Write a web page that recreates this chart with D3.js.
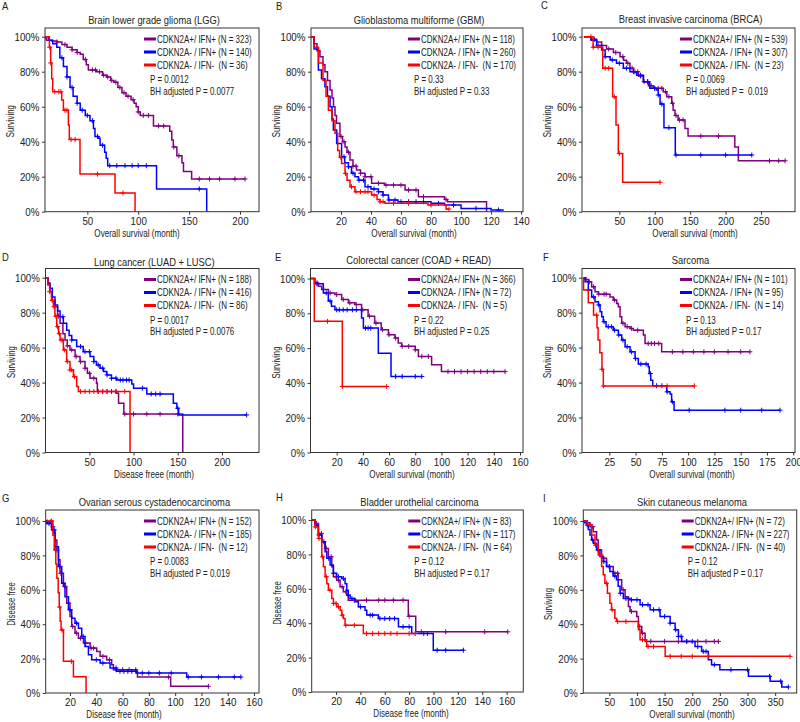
<!DOCTYPE html>
<html><head><meta charset="utf-8">
<script src="https://cdnjs.cloudflare.com/ajax/libs/d3/7.8.5/d3.min.js"></script>
<style>
body{margin:0;background:#fff}
text{font-family:"Liberation Sans",Arial,sans-serif;fill:#222;white-space:pre}
</style></head><body><svg id="c" width="800" height="722" xmlns="http://www.w3.org/2000/svg"></svg>
<script>
// ---------------- DATA ----------------
const groupNames = ["CDKN2A+/ IFN+", "CDKN2A- / IFN+", "CDKN2A- / IFN-"];
const panelTitles = ["Brain lower grade glioma (LGG)","Glioblastoma multiforme (GBM)","Breast invasive carcinoma (BRCA)",
  "Lung cancer (LUAD + LUSC)","Colorectal cancer (COAD + READ)","Sarcoma",
  "Ovarian serous cystadenocarcinoma","Bladder urothelial carcinoma","Skin cutaneous melanoma"];
const panelLetters = ["A","B","C","D","E","F","G","H","I"];
const xLabels = ["Overall survival (month)","Overall survival (month)","Overall survival (month)",
  "Disease freee (month)","Overall survival (month)","Overall survival (month)",
  "Disease free (month)","Disease free (month)","Overall survival (month)"];
const yLabels = ["Surviving","Surviving","Surviving","Surviving","Surviving","Surviving","Disease free","Disease free","Surviving"];
const groupN = [[323,140,36],[118,260,170],[539,307,23],[188,416,86],[366,72,5],[101,95,14],[152,185,12],[83,117,64],[72,227,40]];
const pValues = ["0.0012","0.33","0.0069","0.0017","0.22","0.13","0.0083","0.12","0.12"];
const bhValues = ["0.0077","0.33"," 0.019","0.0076","0.25","0.17","0.019","0.17","0.17"];
const yTicks = [0,20,40,60,80,100];
const xTicks = [[50,100,150,200],[20,40,60,80,100,120,140],[50,100,150,200,250],
  [50,100,150,200],[20,40,60,80,100,120,140,160],[25,50,75,100,125,150,175,200],
  [20,40,60,80,100,120,140,160],[20,40,60,80,100,120,140,160],[50,100,150,200,250,300,350]];

// step points [month, % surviving]; censor times in months
const lggPurple = [[0,100],[5,99],[10,98],[15,97.5],[20,97],[25,95.5],[30,94],[35,92.5],[40,91],[43,90],[46,87],[49,84],[51,81],[59,80],[65,78],[69,77],[73,75],[76,74],[80,71],[84,68],[88,66],[93,64],[96,62],[98,60],[100,57],[102,55],[115,49],[131,46],[133,41],[134.5,37],[138,32],[143,28],[144.5,23],[152.5,18.7],[205,18.7]];
const lggPurpleCens = [20,28,35,40,48,55,58,62,66,70,74,78,82,86,90,95,100,105,110,120,125,135,140,160,170,180,195,205];
const lggBlue = [[0,100],[12,98],[16,96],[20,94],[23,88],[26.5,83],[30,77],[33,71],[36,66],[40,62],[43,58],[48,55],[52.6,52],[56,47.6],[57.5,43],[61,42],[62.5,38],[67,34],[68.5,30.5],[70,26.3],[118,13],[167.3,0]];
const lggBlueCens = [25,30,35,40,45,50,55,60,65,72,79,87,94,100,108,160];
const lggRed = [[0,100],[12.7,94],[14,85],[15,76],[16,68.6],[24.8,63.8],[26.5,58],[31.4,49.5],[32.3,41.3],[42.8,21.5],[77.2,10.7],[96.9,0]];
const lggRedCens = [13,14,18,22,24,28,30,34,38,60,85];

const gbmPurple = [[0,100],[2,96],[4,92],[6,88.6],[8,84],[9.3,80],[11,75],[12.7,69.5],[14,65],[15,60],[16,55],[17,50.5],[19.3,43],[21,40],[22.7,37],[24,34],[26,29.5],[28,26],[30.4,23.8],[33,22],[36,20],[40.4,16.2],[49,15.2],[62.7,12.4],[71.6,8.6],[89,7],[91,5.7],[117,0]];
const gbmPurpleCens = [20,22,25,28,30,33,36,40,45,50,55,60,65,70,75,90];
const gbmBlue = [[0,100],[2,93],[4.9,81],[7,76],[9.3,71.4],[11,66],[12.7,60],[14,53],[14.9,46.7],[17.1,39],[20.4,31.4],[22.5,28],[24.9,25.7],[27,22],[29.3,20],[31.6,18],[36,14.3],[40,13],[44.9,11.4],[48,9.5],[51.6,6.7],[58,5.7],[80,4.8],[89,3.8],[100,1.9],[120,1],[128,0.5]];
const gbmBlueCens = [22,25,28,32,35,38,42,45,48,52,56,60,65,70,75,85,95,110,125];
const gbmRed = [[0,100],[2,94],[5,85],[8,75],[10,66],[11.6,58],[14,52],[16,44.8],[17.8,35],[19,31],[20.4,27.6],[22.7,21.9],[24,18],[26,14.3],[29.3,11.4],[40.4,9.5],[44,7],[46,5.7],[49.3,4.8],[78,3.8],[90,1.5],[92,1.5]];
const gbmRedCens = [20,23,27,30,33,36,38,42,46,48,55,65,80,92];

const brcaPurple = [[0,100],[10,98.5],[18,97],[25,95],[32,93],[41.6,91],[51,88.6],[56,86.5],[60,84.8],[65,82],[70,80],[77,77.5],[84,74.3],[91,72],[98,70.5],[112,68.6],[117,65.7],[124,62],[126,58],[128.6,55],[133,52.4],[142.7,47.6],[147,43.2],[213,37],[218,29.1],[284,29.1]];
const brcaPurpleCens = [15,25,35,45,55,62,68,72,76,80,85,90,95,100,105,110,115,120,125,130,135,140,165,190,262,275,284];
const brcaBlue = [[0,100],[10,98],[18,95],[25,92.4],[30,88.6],[37,86.7],[46,84.8],[55.6,82],[65,80],[74.4,78],[84,74.3],[93,70.5],[102.7,69.5],[105,66.7],[107.5,61.5],[113,48],[129,32.4],[237,32.4]];
const brcaBlueCens = [20,30,40,50,60,70,80,90,100,105,110,120,130,165,200,237];
const brcaRed = [[0,100],[13,94],[26.6,82],[40.6,65.7],[45.3,49.5],[48.6,33.3],[54.7,16.8],[107.4,16.8]];
const brcaRedCens = [10,13,20,30,35,43,50,107.4];

const lungPurple = [[0,100],[3,96],[5.4,92],[8,87],[11,83.4],[14,78],[16.8,74],[20,68],[22.4,64.4],[25,61],[28,58.7],[33.8,54.9],[39.4,52],[45,48.2],[47.7,45.3],[50.7,42.5],[58,39.6],[59,34.9],[81,33.9],[83,28.2],[89,22],[155.7,0]];
const lungPurpleCens = [15,25,30,35,40,45,50,55,60,65,70,75,80,90,100,115,130,150];
const lungBlue = [[0,100],[3,97],[5.4,94],[8,89],[11,84.4],[14,81],[16.8,77.7],[20.5,74],[24.3,70],[27,67],[30,64.4],[35.6,60.6],[43,57.7],[50.7,54.9],[55,52],[58,50],[62,48.2],[66,46.3],[69.6,44.4],[75,42.5],[81,41.5],[98,39.2],[100,36.8],[115,33.5],[145,28.2],[149,25.3],[151,21.5],[228,21.5]];
const lungBlueCens = [20,30,40,45,50,55,60,65,70,75,80,85,88,92,95,110,120,125,130,150,228];
const lungRed = [[0,100],[3,96],[5,92],[7,87],[9.2,83.4],[11,78],[13,72],[15,68],[16.8,64.4],[20.5,58.7],[24.3,52],[28,47.2],[31.9,43.4],[35.6,37.7],[37.5,34.9],[96,0]];
const lungRedCens = [5,8,10,12,14,16,18,20,22,25,28,30,33,40,45,50,55,60,65,70,80,90];

const crcPurple = [[0,100],[3.4,97.5],[6,95.5],[8.5,93.7],[13.6,91.7],[18.7,90.8],[23.8,87.9],[29,86],[34,85],[39,82],[44,78.3],[49,74.4],[54,70.6],[59.5,67.7],[64.5,65.8],[67,62.9],[69.6,61],[80,59],[82.4,55.2],[92.5,50.4],[100,46.5],[148.6,46.5]];
const crcPurpleCens = [5,10,15,20,25,30,35,40,45,50,55,60,65,70,75,80,85,90,105,110,115,120,125,130,135,140,148.6];
const crcBlue = [[0,100],[3,97],[9.8,91.7],[13.6,87],[16,84],[18.7,82],[39,77.3],[40.4,71.5],[51.8,57],[61.5,43.7],[85,43.7]];
const crcBlueCens = [5,12,15,20,22,25,28,32,35,42,44,46,65,70,80,85];
const crcRed = [[0,100],[2.9,75.4],[24.3,37.9],[58.2,37.9]];
const crcRedCens = [13,24.3,58.2];

const sarcPurple = [[0,100],[2,99],[5,97.7],[8.2,94.8],[11.4,92],[14.6,90.6],[25.7,89],[28.8,87.2],[32,85.3],[33.6,83.4],[35.2,77.7],[36.8,73.9],[40,72],[44.7,71],[47.9,70],[57.4,67.2],[59,62.4],[74.8,57.6],[158.8,57.6]];
const sarcPurpleCens = [3,6,10,15,20,22,30,38,42,46,52,62,65,68,72,85,95,105,115,125,138,150,158.8];
const sarcBlue = [[0,100],[1.9,97.7],[5,93],[8.2,89],[11.4,86.3],[14.6,84.4],[16.2,80.5],[17.8,77.7],[19.3,74.8],[21.9,72],[28.8,70],[33.6,67.2],[36.8,64.3],[40,60.5],[44.7,57.6],[49.5,53.8],[52.6,50.6],[62,49],[63,45.2],[64.4,41.4],[66.3,38.2],[79.6,34.7],[82.8,33.4],[84.3,29],[86.6,24.2],[187.4,24.2]];
const sarcBlueCens = [5,10,15,20,24,27,30,34,38,42,46,50,55,60,64,70,75,80,85,101,135,150,170,187.4];
const sarcRed = [[0,100],[0.5,92.9],[5,85.7],[10,78.6],[13.3,71.4],[14.3,64.3],[16,57.1],[18,47.6],[19.3,38.1],[105.9,38.1]];
const sarcRedCens = [13,18,19.3,80,105.9];

const ovPurple = [[0,100],[2.3,99.5],[6,96.7],[7.5,93],[8.6,89],[10,83],[11.2,77.4],[12.4,69.6],[15,61.9],[17.5,52.2],[20,44.5],[21.3,38.7],[23.8,34.8],[26.4,31.9],[30.2,29],[35.3,26.1],[40.3,24.2],[42.9,21.3],[47.9,19.3],[51.7,16.4],[53,13.5],[70.8,11.6],[71.3,9.3],[96.6,3.9],[125.3,3.9]];
const ovPurpleCens = [3,5,7,10,13,16,19,22,25,28,32,36,38,45,50,55,60,65,70,95,125.3];
const ovBlue = [[0,100],[2.3,98.5],[6,94.8],[8.6,85],[11.2,73.5],[13.7,63.8],[16.2,56],[18.8,48.4],[21.3,43.5],[23.8,40.6],[26.4,37.7],[28.9,32.9],[31.4,27],[34,22.2],[36.5,19.3],[42.9,17.4],[50.5,14.5],[55.5,12.6],[70.8,11.6],[108.8,9.3],[150,9.3]];
const ovBlueCens = [4,8,12,15,20,25,30,40,45,55,58,61,64,67,70,75,80,88,97,110,120,133,145,150];
const ovRed = [[0,100],[7,91.7],[8,83.3],[9.2,75],[10,66.7],[11,58.3],[11.8,50],[12.5,41.7],[13.2,36.6],[15,18.4],[22.6,9.4],[32.2,0]];
const ovRedCens = [6,9,12,14,21];

const blcaPurple = [[0,100],[2.8,98],[5.5,92.2],[8.3,87.4],[11,83.5],[13.7,78.6],[16.5,72.8],[17.8,67],[20.6,65],[23.3,61.2],[26,58.3],[28.8,56.3],[30,53.4],[79.3,44],[85.4,35],[160.9,35]];
const blcaPurpleCens = [4,8,12,16,20,22,25,28,35,45,55,60,67,75,80,90,110,142,160.9];
const blcaBlue = [[0,100],[2.8,97],[5.5,91.3],[8.3,87.4],[11,81.6],[12.4,77.7],[15.1,73.8],[17.8,69],[20.6,67],[24.7,66],[27.4,63],[28.8,59.2],[30,56.3],[31.5,54.4],[35.6,52.4],[38.3,49.5],[43.8,47.6],[45.2,44.7],[54.7,42.7],[71.2,37.9],[82.1,34],[99.8,24.3],[124.5,24.3]];
const blcaBlueCens = [6,10,14,18,22,26,30,33,40,48,50,56,60,64,68,75,80,92,95,103,110,124.5];
const blcaRed = [[0,100],[2.8,96],[5.5,89.3],[8.3,78.6],[9.6,72.8],[11,67],[12.4,63],[13.7,59.2],[16.5,54.4],[17.8,51.5],[20.6,49.5],[23.3,47.6],[24.7,44.7],[26,42.7],[27.4,38.8],[42.4,34],[85,34]];
const blcaRedCens = [3,6,9,12,15,18,20,22,25,28,35,45,50,55,60,65,70,80,85];

const skcmPurple = [[0,100],[9,99],[15,96.7],[21,93.8],[27,89],[30,83.2],[36,78.3],[45,73.5],[57,69.6],[66,65.8],[72.4,60],[78.5,56],[84.5,50.3],[87.5,47.4],[99.6,44.5],[102.6,38.7],[108.6,34.8],[114.7,30],[247.4,30]];
const skcmPurpleCens = [10,20,30,40,50,60,65,75,90,105,110,125,150,175,190,210,225,240,247.4];
const skcmBlue = [[0,100],[5,99],[9,97.7],[12,95],[15,91.9],[18,89],[21,87],[27,83.2],[33,79.3],[39,76.4],[45,73.5],[51,70.6],[57,68],[63,65.8],[66,62],[69.4,58],[75.4,55],[87.5,54.2],[105.6,51.3],[123.7,48.4],[141.8,44.5],[160,40.6],[169,36.8],[175,32.9],[181,30],[205,27],[217,24.2],[229,19.3],[235,16.4],[250,13.5],[301.7,9.7],[341,6.8],[362,3.5],[374,3.5]];
const skcmBlueCens = [10,20,30,40,50,60,70,80,90,100,110,120,130,140,150,160,170,175,180,190,200,210,220,225,240,270,300,340,360,374];
const skcmRed = [[0,100],[10,98],[18,91.9],[24,86],[30,80.3],[36,73.5],[39,68.7],[42,63.8],[46.5,58],[51,52.2],[54,48.4],[60,43.5],[63,41.6],[102.6,36.8],[105.6,31],[117.7,27],[151,21.3],[377,21.3]];
const skcmRedCens = [25,35,45,55,65,80,110,120,130,160,180,200,230,377];

const curveSets = [
  [[lggPurple,lggPurpleCens],[lggBlue,lggBlueCens],[lggRed,lggRedCens]],
  [[gbmPurple,gbmPurpleCens],[gbmBlue,gbmBlueCens],[gbmRed,gbmRedCens]],
  [[brcaPurple,brcaPurpleCens],[brcaBlue,brcaBlueCens],[brcaRed,brcaRedCens]],
  [[lungPurple,lungPurpleCens],[lungBlue,lungBlueCens],[lungRed,lungRedCens]],
  [[crcPurple,crcPurpleCens],[crcBlue,crcBlueCens],[crcRed,crcRedCens]],
  [[sarcPurple,sarcPurpleCens],[sarcBlue,sarcBlueCens],[sarcRed,sarcRedCens]],
  [[ovPurple,ovPurpleCens],[ovBlue,ovBlueCens],[ovRed,ovRedCens]],
  [[blcaPurple,blcaPurpleCens],[blcaBlue,blcaBlueCens],[blcaRed,blcaRedCens]],
  [[skcmPurple,skcmPurpleCens],[skcmBlue,skcmBlueCens],[skcmRed,skcmRedCens]]
];
const xDomains = [[8.4,218.7],[0,141.3],[-2.7,298],[0.3,242],[0,162.3],[-1,201.7],[1.5,163.8],[0,173.7],[2.9,389]];

// ---------------- LAYOUT / STYLE ----------------
const colors = ["#800080","#0000ff","#ff0000"];
const layout = [
  {l:45,r:259,top:28,b:211.7,y100:36.7,letter:[2,9.5],titleY:24,xlabX:137},
  {l:311,r:523,top:28,b:211.7,y100:36.7,letter:[276,9.5],titleY:24,xlabX:414},
  {l:582,r:795,top:28,b:211.7,y100:36.7,letter:[541,9],titleY:23,xlabX:695},
  {l:45.5,r:259,top:268.5,b:452.5,y100:277.7,letter:[2,261],titleY:265.5,xlabX:154},
  {l:310.5,r:523,top:268.5,b:452.5,y100:278.5,letter:[275,261],titleY:264,xlabX:412},
  {l:582,r:795,top:268.5,b:452.5,y100:277.7,letter:[543,261],titleY:264,xlabX:692},
  {l:45.7,r:259,top:510,b:693,y100:521,letter:[2,502],titleY:505.5,xlabX:124},
  {l:311.7,r:523.3,top:510,b:692,y100:520,letter:[276,501],titleY:505.5,xlabX:411},
  {l:583.3,r:796.7,top:510,b:693,y100:521,letter:[543,502],titleY:505.5,xlabX:692}
];

const svg = d3.select("#c");

// condensed text helper (the figure's typeface is a narrow sans)
function ctext(g, x, y, str, size, sx, anchor, rot){
  return g.append("text")
    .attr("transform", `translate(${x},${y})${rot ? " rotate(" + rot + ")" : ""} scale(${sx},1)`)
    .attr("text-anchor", anchor || "start").attr("font-size", size).text(str);
}

function survAt(steps, t){
  let v = steps[0][1];
  for (const s of steps){ if (s[0] <= t) v = s[1]; else break; }
  return v;
}

layout.forEach((L,i)=>{
  const g = svg.append("g");
  const x = d3.scaleLinear().domain(xDomains[i]).range([L.l,L.r]);
  const y = d3.scaleLinear().domain([0,100]).range([L.b,L.y100]);

  g.append("clipPath").attr("id","clip"+i).append("rect")
    .attr("x",L.l).attr("y",L.top).attr("width",L.r-L.l).attr("height",L.b-L.top);

  // letter and title
  ctext(g, L.letter[0], L.letter[1], panelLetters[i], 10.5, 0.9);
  ctext(g, (L.l+L.r)/2+2, L.titleY, panelTitles[i], 11, 0.85, "middle");

  // curves
  const plot = g.append("g").attr("clip-path",`url(#clip${i})`);
  const line = d3.line().x(d=>x(d[0])).y(d=>y(d[1])).curve(d3.curveStepAfter);
  curveSets[i].forEach(([steps,cens],k)=>{
    plot.append("path").attr("d",line(steps)).attr("fill","none")
      .attr("stroke",colors[k]).attr("stroke-width",1.5);
    const cg = plot.append("g").attr("stroke",colors[k]).attr("stroke-width",1);
    cens.forEach(t=>{
      const cx = x(t), cy = y(survAt(steps,t));
      cg.append("path").attr("d",`M${cx-2.5},${cy}H${cx+2.5}M${cx},${cy-2.5}V${cy+2.5}`);
    });
  });

  // frame
  g.append("rect").attr("x",L.l).attr("y",L.top).attr("width",L.r-L.l).attr("height",L.b-L.top)
    .attr("fill","none").attr("stroke","#333").attr("stroke-width",1);

  // axes
  const xa = g.append("g").attr("transform",`translate(0,${L.b})`)
    .call(d3.axisBottom(x).tickValues(xTicks[i]).tickSize(3).tickPadding(3).tickFormat(d3.format("d")));
  const ya = g.append("g").attr("transform",`translate(${L.l},0)`)
    .call(d3.axisLeft(y).tickValues(yTicks).tickSize(3).tickPadding(3).tickFormat(d=>d+"%"));
  [xa,ya].forEach(a=>{
    a.select(".domain").remove();
    a.selectAll("line").attr("stroke","#333");
    a.selectAll("text").attr("font-size",10.5).attr("font-family",null).attr("fill","#222");
  });
  xa.selectAll("text").attr("transform","scale(0.93,1)");
  ya.selectAll("text").attr("dy","0.35em").attr("transform","scale(0.93,1)");

  // axis labels
  ctext(g, L.xlabX, L.b+25, xLabels[i], 10.5, 0.77, "middle");
  const ymid = (L.b+L.y100)/2 - 3;
  ctext(g, L.l-31, ymid, yLabels[i], 10.5, 0.74, "middle", -90);

  // legend
  const lx = L.r - 115, tx = L.r - 102;
  groupNames.forEach((nm,k)=>{
    const by = L.top + 14.5 + k*13;
    g.append("line").attr("x1",lx).attr("x2",lx+12).attr("y1",by-3.5).attr("y2",by-3.5)
      .attr("stroke",colors[k]).attr("stroke-width",3);
    const pad = k===2 ? "  " : " ";
    ctext(g, tx, by, `${nm}${pad}(N = ${groupN[i][k]})`, 10.5, 0.76);
  });
  ctext(g, L.r-109, L.top+55, `P = ${pValues[i]}`, 10.5, 0.76);
  ctext(g, L.r-109, L.top+66.5, `BH adjusted P = ${bhValues[i]}`, 10.5, 0.76);
});
</script></body></html>
